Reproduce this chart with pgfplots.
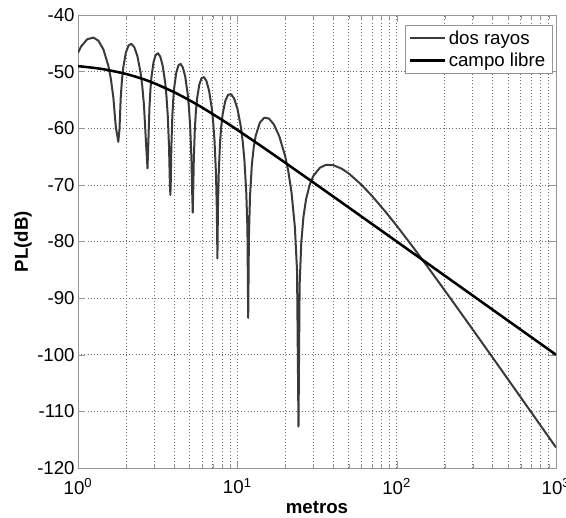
\documentclass[border=0pt]{standalone}
\usepackage{pgfplots}
\pgfplotsset{compat=1.18}
\usepackage{fontspec}
\setmainfont{Liberation Sans}
\usetikzlibrary{calc}

\definecolor{tworay}{RGB}{58,58,58}
\definecolor{framegray}{RGB}{150,150,150}
\definecolor{gridgray}{RGB}{110,110,110}

\newcommand{\fs}{\fontsize{14}{16}\selectfont}

\begin{document}
\begin{tikzpicture}
\begin{axis}[
    name=ax,
    scale only axis,
    width=358.5pt, height=339.75pt,
    xmode=log,
    xmin=1, xmax=1000,
    ymin=-120, ymax=-40,
    xtick={1,10,100,1000},
    xticklabels={10\textsuperscript{0},10\textsuperscript{1},10\textsuperscript{2},10\textsuperscript{3}},
    ytick={-120,-110,...,-40},
    /pgf/number format/assume math mode=true,
    xmajorgrids, xminorgrids, ymajorgrids,
    major grid style={dotted, gridgray},
    minor grid style={dotted, gridgray},
    axis line style={framegray},
    tick style={framegray},
    tick align=inside,
    major tick length=5pt,
    minor tick length=3pt,
    ticklabel style={font=\fs},
    xticklabel style={yshift=-4pt},
    yticklabel style={xshift=1pt},
    xlabel={\textbf{metros}},
    ylabel={\textbf{PL(dB)}},
    label style={font=\fs},
    xlabel style={at={(axis description cs:0.5,-0.087)}, anchor=center},
    ylabel style={at={(axis description cs:-0.115,0.5)}, anchor=center},
    legend style={at={(0.992,0.978)}, anchor=north east, draw=framegray,
        fill=white, font=\fs, row sep=1pt},
    legend cell align=left,
    legend image code/.code={\draw[#1] (0pt,0pt) -- (26pt,0pt);},
]

% modelo de dos rayos
\addplot[tworay, line width=1.5pt, line join=round] coordinates {
(1, -46.67) (1.0456, -45.56) (1.1432, -44.28) (1.25, -43.99) (1.3433, -44.54)
(1.4429, -46.06) (1.5502, -48.95) (1.6069, -51.23) (1.6656, -54.49) (1.7268, -59.75)
(1.79, -62.4)
(1.8214, -60.24) (1.8538, -54.69) (1.8875, -51.48) (1.9224, -49.31) (1.9962, -46.67)
(2.0759, -45.39) (2.1623, -45.09) (2.2561, -45.68) (2.3584, -47.25) (2.4705, -50.19)
(2.5307, -52.51) (2.5938, -55.88) (2.6601, -61.59)
(2.73, -67.1)
(2.7690, -61.76) (2.8091, -56.23) (2.8504, -53.04) (2.8929, -50.89) (2.9819, -48.27)
(3.0766, -47.03) (3.1773, -46.75) (3.2849, -47.36) (3.4002, -48.95) (3.5237, -51.90)
(3.5890, -54.22) (3.6567, -57.59) (3.7269, -63.30) (3.7704, -69.47)
(3.8, -71.8)
(3.8211, -69.55) (3.8533, -63.49) (3.9080, -57.98) (3.9642, -54.80) (4.0222, -52.67)
(4.1432, -50.09) (4.2719, -48.88) (4.4088, -48.64) (4.5548, -49.29) (4.7108, -50.91)
(4.8778, -53.91) (4.9657, -56.25) (5.0569, -59.63) (5.1517, -65.36) (5.2102, -71.53)
(5.25, -74.9)
(5.2815, -71.63) (5.3299, -65.59) (5.4122, -60.10) (5.4972, -56.95) (5.5850, -54.84)
(5.7690, -52.31) (5.9659, -51.15) (6.1763, -50.97) (6.4024, -51.67) (6.6454, -53.35)
(6.9080, -56.40) (7.0467, -58.77) (7.1917, -62.19) (7.3427, -67.95) (7.4361, -74.14)
(7.5, -83.0)
(7.5540, -74.27) (7.6370, -68.25) (7.7791, -62.79) (7.9270, -59.68) (8.0802, -57.61)
(8.4055, -55.16) (8.7573, -54.09) (9.1408, -53.99) (9.5593, -54.79) (10.017, -56.57)
(10.522, -59.73) (10.793, -62.16) (11.079, -65.63) (11.382, -71.45) (11.570, -77.69)
(11.7, -93.5)
(11.822, -79.24) (12.010, -72.00) (12.337, -66.39) (12.682, -63.30) (13.048, -61.30)
(13.845, -59.02) (14.747, -58.14) (15.773, -58.28) (16.955, -59.32) (18.325, -61.39)
(19.940, -64.88) (20.859, -67.51) (21.863, -71.23) (22.973, -77.48) (23.697, -85.12)
(24.2, -112.7)
(24.6, -87.69) (25.2, -80.17) (26, -75.64) (27, -72.54) (28.5, -69.92)
(30, -68.43) (33, -66.96) (36, -66.47) (40, -66.52) (45, -67.12)
(50, -67.98) (60, -69.96) (70, -71.95) (85, -74.73) (100, -77.21)
(130, -81.42) (170, -85.87) (220, -90.23) (300, -95.54) (400, -100.49)
(550, -106.00) (700, -110.18) (850, -113.55) (1000, -116.37)
};
\addlegendentry{dos rayos}

% espacio libre
\addplot[black, line width=1.9pt, smooth] coordinates {
(1, -49.03) (1.25, -49.33) (1.5, -49.66) (2, -50.41) (2.5, -51.22)
(3, -52.04) (4, -53.62) (5, -55.05) (6, -56.33) (8, -58.51)
(10, -60.29) (15, -63.66) (20, -66.10) (30, -69.58) (50, -73.99)
(100, -80.00) (200, -86.02) (500, -93.98) (1000, -100.00)
};
\addlegendentry{campo libre}

\end{axis}
\pgfresetboundingbox
\useasboundingbox ($(ax.south west)+(-58.5pt,-37.5pt)$) rectangle ($(ax.north east)+(7.5pt,11.25pt)$);
\end{tikzpicture}
\end{document}
